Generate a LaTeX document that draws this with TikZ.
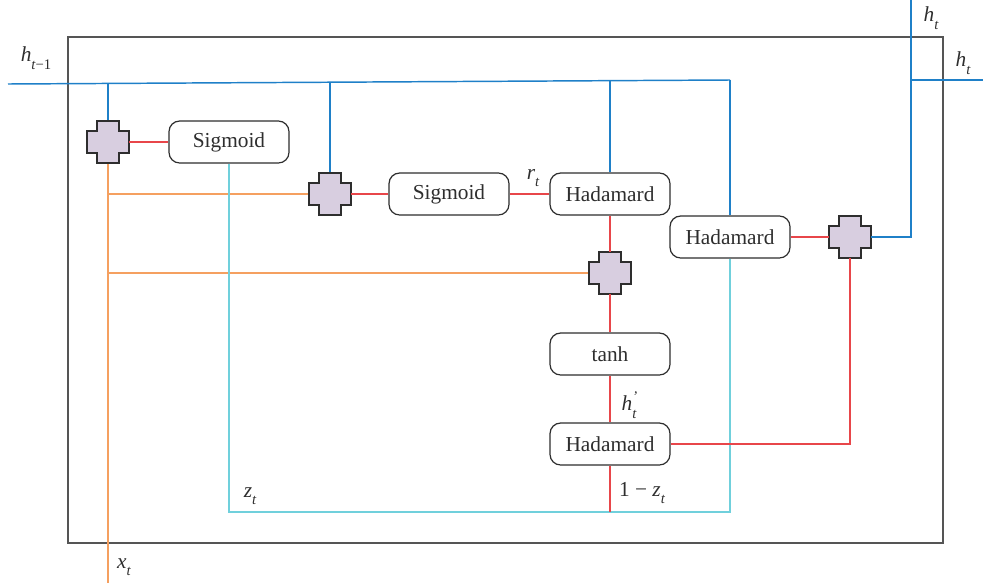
\documentclass[tikz,border=0pt]{standalone}
\usepackage{fontspec}
\setmainfont{Liberation Serif}
\usetikzlibrary{calc}
\definecolor{hblue}{HTML}{1F80C8}
\definecolor{gred}{HTML}{E8464A}
\definecolor{xorange}{HTML}{F5A060}
\definecolor{zcyan}{HTML}{70D0DC}
\definecolor{plusfill}{HTML}{D8CEE0}
\definecolor{frame}{HTML}{555555}
\definecolor{ink}{HTML}{2E2E2E}
\tikzset{
  gatebox/.style={draw=ink, line width=0.9pt, rounded corners=8pt, fill=white,
    minimum width=90pt, minimum height=31.5pt, inner sep=0pt,
    font=\fontsize{16}{18}\selectfont, text=ink},
  plusnode/.style={inner sep=0pt, minimum size=31.5pt},
  plusshape/.style={draw=ink, line width=0.9pt, fill=plusfill},
  lbl/.style={font=\fontsize{16}{18}\selectfont\itshape, text=ink, inner sep=0pt},
  wblue/.style={hblue, line width=1.1pt},
  wred/.style={gred, line width=1.1pt},
  worange/.style={xorange, line width=1.1pt},
  wcyan/.style={zcyan, line width=1.1pt},
}
% subscript in the label font
\newcommand{\lsub}[1]{\raisebox{-0.35em}{\fontsize{11}{12}\selectfont #1}}
\newcommand{\plusat}[2]{%
  \node[plusnode] (#1) at #2 {};
  \draw[plusshape] ([shift={(-11,-21)}]#1.center) -- ([shift={(11,-21)}]#1.center)
    -- ([shift={(11,-11)}]#1.center) -- ([shift={(21,-11)}]#1.center)
    -- ([shift={(21,11)}]#1.center) -- ([shift={(11,11)}]#1.center)
    -- ([shift={(11,21)}]#1.center) -- ([shift={(-11,21)}]#1.center)
    -- ([shift={(-11,11)}]#1.center) -- ([shift={(-21,11)}]#1.center)
    -- ([shift={(-21,-11)}]#1.center) -- ([shift={(-11,-11)}]#1.center) -- cycle;
}
\begin{document}
\begin{tikzpicture}[x=0.75pt,y=-0.75pt]
\useasboundingbox (0,0) rectangle (983,586);

% cell frame
\draw[frame, line width=1.5pt] (68,37) rectangle (943,543);

% junction points
\coordinate (hin) at (8,84);
\coordinate (hend) at (730,80);
\coordinate (xin) at (108,583);
\coordinate (zl) at (229,512);
\coordinate (zm) at (610,512);
\coordinate (zr) at (730,512);
\coordinate (hupr) at (911,237);
\coordinate (hupt) at (911,0);
\coordinate (hsid) at (911,80);
\coordinate (hout) at (983,80);
\coordinate (hcor) at (850,444);

% nodes
\node[gatebox] (sig1) at (229,142) {Sigmoid};
\node[gatebox] (sig2) at (449,194) {Sigmoid};
\node[gatebox] (had1) at (610,194) {Hadamard};
\node[gatebox] (had2) at (730,237) {Hadamard};
\node[gatebox] (tanhb) at (610,354) {tanh};
\node[gatebox] (had3) at (610,444) {Hadamard};

% connectors drawn below the adders
\draw[wblue] (hin) -- (hend);
\draw[wblue] (108,83.4) -- (108,121);
\draw[wblue] (330,82.2) -- (330,173);
\draw[wblue] (610,80.7) -- (had1.north);
\draw[wblue] (hend) -- (had2.north);

\draw[worange] (xin) -- (108,142);
\draw[worange] (108,194) -- (309,194);
\draw[worange] (108,273) -- (589,273);

\draw[wcyan] (sig1.south) -- (zl) -- (zr) -- (had2.south);

\plusat{p1}{(108,142)}
\plusat{p2}{(330,194)}
\plusat{p3}{(610,273)}
\plusat{p4}{(850,237)}

\draw[wred] (p1.east) -- (sig1.west);
\draw[wred] (p2.east) -- (sig2.west);
\draw[wred] (sig2.east) -- (had1.west);
\draw[wred] (had1.south) -- (p3.north);
\draw[wred] (p3.south) -- (tanhb.north);
\draw[wred] (tanhb.south) -- (had3.north);
\draw[wred] (had3.south) -- (zm);
\draw[wred] (had3.east) -- (hcor) -- (p4.south);
\draw[wred] (had2.east) -- (p4.west);

\draw[wblue] (p4.east) -- (hupr) -- (hupt);
\draw[wblue] (hsid) -- (hout);

% labels
\node[lbl] (lhprev) at (36,58) {h\lsub{t\upshape−1}};
\node[lbl] (lht1) at (931,18) {h\lsub{t}};
\node[lbl] (lht2) at (963,63) {h\lsub{t}};
\node[lbl] (lrt) at (533,178) {r\lsub{t}};
\node[lbl] (lhp) at (629,405) {h\rlap{\raisebox{0.45em}{\fontsize{11}{12}\selectfont ’}}\lsub{t}};
\node[lbl] (lomz) at (642,493) {\upshape 1 − \itshape z\lsub{t}};
\node[lbl] (lz) at (250,496) {z\lsub{t}};
\node[lbl] (lx) at (124,567) {x\lsub{t}};
\end{tikzpicture}
\end{document}
